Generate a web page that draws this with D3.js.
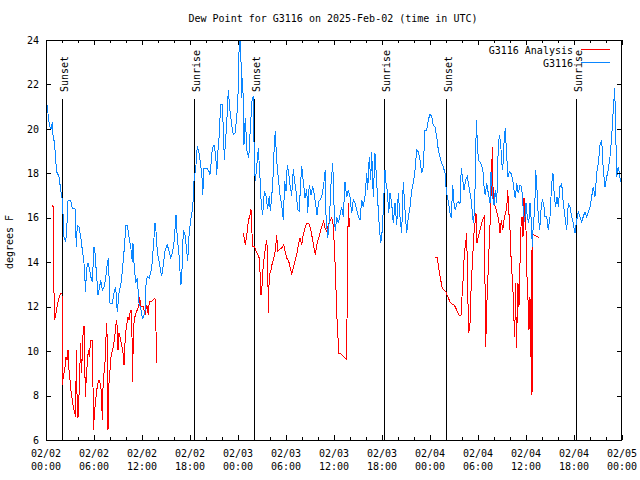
<!DOCTYPE html>
<html><head><meta charset="utf-8">
<script src="https://cdn.jsdelivr.net/npm/d3@7"></script>
<style>
body{margin:0;background:#fff;}
text{font-family:"DejaVu Sans Mono",monospace;font-size:10px;fill:#000;}
</style></head>
<body><svg id="c" width="640" height="480"></svg>
<script>
// ---- data (hours since 2025-02-02 00:00 UTC, dew point in deg F) ----
const title = "Dew Point for G3116 on 2025-Feb-02 (time in UTC)";
const seriesNames = ["G3116 Analysis", "G3116"];
const yTicks = [6, 8, 10, 12, 14, 16, 18, 20, 22, 24];
const sunEvents = [["Sunset", 2.04], ["Sunrise", 18.46], ["Sunset", 26.04], ["Sunrise", 42.3], ["Sunset", 50.04], ["Sunrise", 66.2]];

const obsHours = [0.125,0.375,0.59,0.79,0.91,1.04,1.21,1.34,1.625,1.84,2.04,2.125,2.25,2.46,2.59,2.75,3.09,3.29,3.625,3.79,3.91,4.125,4.34,4.54,4.75,4.96,5.04,5.25,5.46,5.59,5.79,6.0,6.125,6.29,6.5,6.71,6.84,7.04,7.25,7.46,7.66,7.79,7.875,8.0,8.29,8.5,8.71,8.91,9.125,9.41,9.625,9.84,9.96,10.16,10.375,10.59,10.79,10.875,11.0,11.21,11.41,11.625,11.84,12.04,12.16,12.375,12.5,12.66,12.91,13.21,13.41,13.625,13.75,13.91,14.125,14.34,14.46,14.66,14.875,15.16,15.375,15.59,15.84,16.04,16.25,16.41,16.625,16.75,16.875,17.04,17.16,17.375,17.59,17.71,17.91,18.125,18.34,18.5,18.75,18.91,19.09,19.34,19.5,19.59,19.75,20.09,20.375,20.5,20.625,20.79,21.0,21.21,21.34,21.46,21.625,21.84,22.04,22.16,22.29,22.5,22.66,22.79,23.0,23.21,23.41,23.625,23.84,24.0,24.16,24.31,24.46,24.59,24.75,24.91,25.125,25.34,25.54,25.75,25.91,26.04,26.16,26.34,26.54,26.75,26.91,27.09,27.29,27.5,27.71,27.91,28.04,28.34,28.54,28.66,28.84,29.04,29.25,29.5,29.66,29.84,30.0,30.16,30.34,30.5,30.71,30.91,31.09,31.25,31.46,31.66,31.79,31.96,32.16,32.375,32.59,32.71,32.91,33.125,33.34,33.46,33.66,33.875,34.09,34.29,34.5,34.71,34.91,35.0,35.21,35.41,35.625,35.84,36.04,36.16,36.34,36.54,36.75,36.96,37.16,37.375,37.59,37.79,38.0,38.21,38.41,38.625,38.84,39.04,39.25,39.46,39.66,39.875,40.09,40.21,40.41,40.59,40.71,40.91,41.125,41.25,41.46,41.66,41.84,42.04,42.16,42.375,42.5,42.66,42.84,43.0,43.21,43.41,43.625,43.84,44.04,44.25,44.46,44.66,44.875,45.09,45.29,45.5,45.71,45.91,46.125,46.34,46.54,46.75,46.96,47.16,47.375,47.59,47.79,48.0,48.21,48.41,48.625,48.84,49.04,49.25,49.46,49.66,49.875,50.0,50.16,50.34,50.5,50.66,50.84,51.0,51.16,51.34,51.54,51.75,51.91,52.09,52.25,52.46,52.66,52.875,53.09,53.29,53.41,53.54,53.66,53.79,53.91,54.04,54.25,54.46,54.66,54.79,54.91,55.09,55.29,55.5,55.625,55.84,56.0,56.16,56.34,56.5,56.66,56.84,56.96,57.09,57.25,57.41,57.59,57.75,57.91,58.125,58.34,58.5,58.66,58.84,59.04,59.25,59.46,59.66,59.84,60.0,60.16,60.34,60.5,60.66,60.79,60.91,61.09,61.21,61.375,61.54,61.71,61.875,62.04,62.21,62.375,62.59,62.79,63.0,63.21,63.375,63.54,63.71,63.875,64.04,64.25,64.46,64.66,64.875,65.09,65.29,65.5,65.71,65.91,66.125,66.34,66.54,66.75,66.96,67.16,67.375,67.59,67.79,68.0,68.21,68.41,68.625,68.84,69.04,69.25,69.46,69.66,69.875,70.09,70.29,70.5,70.71,70.91,71.09,71.21,71.34,71.54,71.66,71.84];
const obsValues = [21.1,20.3,19.95,20.3,19.5,19.5,18.6,18.07,17.85,17.25,16.8,16.17,15.15,14.9,15.45,16.77,16.77,16.42,16.4,14.7,15.67,15.6,15.15,14.55,13.95,12.67,13.65,13.98,13.65,13.35,13.13,14.7,14.4,13.57,12.52,12.9,13.2,12.75,12.9,13.28,13.95,14.17,13.4,12.15,12.15,12.6,12.9,11.77,12.6,13.13,13.95,14.85,15.67,15.67,15.15,14.7,14.0,14.85,13.95,13.05,13.28,12.15,11.95,11.47,11.5,11.79,12.99,13.37,13.3,13.74,14.64,15.76,15.39,14.49,14.04,13.59,13.37,13.89,14.49,14.79,14.49,14.19,14.49,15.01,16.14,15.09,14.34,13.59,12.99,13.9,15.46,15.24,14.49,14.04,15.39,15.99,16.44,17.64,18.39,19.22,18.99,18.39,17.79,17.04,18.24,18.24,18.09,17.94,18.39,19.14,19.29,18.84,17.94,18.84,19.59,21.09,21.09,20.04,18.61,19.74,20.72,21.76,20.79,20.2,19.74,19.8,20.49,21.54,23.94,24.3,21.39,22.29,19.29,20.49,18.99,18.69,20.04,21.24,21.47,18.54,17.64,18.3,19.14,17.79,16.59,16.14,17.19,17.0,16.4,17.0,16.29,17.49,19.29,19.89,18.54,17.79,17.04,16.44,15.91,17.64,17.2,18.39,18.0,17.49,17.0,18.17,17.64,17.19,16.37,16.3,17.3,18.32,17.64,16.89,17.3,16.22,17.49,17.04,17.42,17.2,16.74,16.14,16.74,16.8,17.04,17.49,18.17,16.14,15.09,15.84,17.49,18.47,16.14,15.39,16.05,15.75,16.12,16.5,16.05,17.62,16.95,17.25,16.95,16.2,16.8,16.65,16.35,16.05,15.9,16.8,16.5,16.95,18.0,17.25,18.75,17.7,18.97,16.95,18.9,18.15,16.8,15.6,14.85,15.45,16.35,18.15,17.55,17.25,16.2,17.1,16.65,15.75,16.65,15.68,17.1,16.05,15.3,17.62,16.35,15.3,16.05,16.5,17.25,17.55,18.15,19.05,18.97,18.6,18.0,18.3,19.95,19.95,20.4,20.67,20.55,20.17,20.1,19.65,19.05,18.75,18.45,18.3,18.0,17.4,16.95,16.65,16.2,15.98,17.47,16.65,16.35,16.65,16.72,16.65,18.22,17.7,17.25,17.7,17.85,17.4,16.95,16.27,15.75,16.2,17.7,20.4,19.5,18.6,18.52,18.37,18.0,17.18,17.02,17.55,17.1,16.65,18.07,16.95,16.58,17.25,16.65,18.75,19.73,19.35,18.45,18.15,19.35,20.03,18.75,17.85,18.07,18.0,17.7,17.25,16.88,17.55,17.1,17.47,17.4,16.35,15.83,16.65,16.05,15.75,16.65,15.9,14.7,15.75,16.35,18.15,17.25,16.05,15.45,16.35,16.8,16.65,16.05,16.05,15.45,16.05,17.55,18.0,16.95,16.5,16.95,16.5,17.4,17.55,16.65,16.05,15.45,16.65,16.5,16.05,15.75,15.3,15.9,16.27,16.05,15.83,16.05,16.27,16.05,16.27,16.5,16.95,17.4,16.95,18.0,18.45,19.27,19.5,18.15,17.4,17.85,18.15,18.75,19.65,20.85,21.82,19.95,17.85,18.3,18.0,17.62];

// analysis: three separate runs
const anaHours1 = [0.75,0.875,0.96,1.04,1.21,1.34,1.46,1.625,1.84,2.0,2.03,2.06,2.16,2.34,2.5,2.625,2.75,2.84,3.0,3.16,3.29,3.41,3.59,3.71,3.79,3.91,4.0,4.09,4.25,4.34,4.41,4.54,4.66,4.79,4.91,5.04,5.16,5.29,5.41,5.59,5.84,5.91,6.0,6.09,6.21,6.34,6.5,6.625,6.75,6.91,7.04,7.16,7.34,7.46,7.59,7.66,7.75,7.875,8.0,8.125,8.29,8.41,8.59,8.71,8.84,8.91,9.0,9.125,9.25,9.41,9.59,9.75,9.875,10.0,10.125,10.25,10.375,10.5,10.625,10.75,10.84,10.91,11.04,11.21,11.41,11.59,11.71,11.84,11.96,12.16,12.375,12.59,12.79,12.91,13.21,13.41,13.625,13.75,13.84];
const anaValues1 = [16.5,16.57,13.95,11.4,11.6,11.9,12.15,12.4,12.6,12.6,10.5,8.47,8.85,9.15,9.75,9.6,10.05,9.3,8.7,8.1,7.8,7.5,7.2,7.05,10.05,7.35,7.0,7.6,9.45,10.35,9.0,9.75,11.1,11.1,7.95,8.85,9.45,10.05,9.75,10.5,10.5,6.45,6.9,7.35,7.8,8.25,8.55,8.7,8.55,8.25,6.9,8.85,9.15,10.35,11.25,10.35,6.45,8.55,9.15,9.75,10.05,10.2,10.65,11.1,11.4,10.95,10.05,10.8,10.65,10.35,10.05,9.37,10.35,10.95,11.25,11.55,11.4,11.7,11.85,10.65,8.62,10.95,11.4,11.7,11.85,12.0,12.45,12.0,12.01,12.01,11.64,12.09,11.64,12.24,12.24,12.3,12.39,10.89,9.47];
const anaHours2 = [24.66,24.91,25.09,25.29,25.5,25.625,25.75,25.84,26.04,26.25,26.46,26.66,26.79,26.875,27.0,27.16,27.375,27.59,27.71,27.79,27.91,28.09,28.25,28.46,28.66,28.84,28.96,29.16,29.46,29.71,29.875,30.09,30.34,30.54,30.71,30.91,31.125,31.34,31.54,31.75,31.96,32.16,32.375,32.59,32.84,33.04,33.25,33.46,33.66,33.84,34.09,34.29,34.5,34.71,34.875,35.09,35.29,35.5,35.71,35.91,36.09,36.21,36.25,36.41,36.625,36.84,37.59,37.66,37.79,37.875,38.0];
const anaValues2 = [15.32,14.79,15.2,15.84,16.14,16.37,15.3,14.72,14.72,14.49,14.34,14.19,13.29,12.54,12.9,13.89,14.49,15.01,14.2,11.71,13.44,13.59,13.89,14.19,14.49,15.24,14.49,14.57,14.64,14.79,14.49,14.19,14.04,13.74,13.44,13.74,14.04,14.34,14.79,15.09,14.79,15.24,15.54,15.76,15.76,15.54,15.16,14.72,14.34,14.79,15.09,15.39,15.61,15.84,15.54,15.39,15.69,15.84,15.99,15.69,14.34,13.29,12.75,11.1,9.9,9.87,9.6,13.05,16.65,15.6,16.0];
const anaHours3 = [48.66,48.91,49.125,49.34,49.54,49.75,50.0,50.21,50.5,50.71,51.04,51.34,51.625,51.875,52.0,52.16,52.29,52.46,52.59,52.71,52.84,53.0,53.16,53.34,53.5,53.625,53.75,53.875,54.04,54.25,54.46,54.66,54.79,54.91,54.96,55.09,55.21,55.34,55.46,55.59,55.71,55.79,55.875,56.0,56.16,56.34,56.59,56.75,56.91,57.09,57.25,57.41,57.59,57.71,57.84,58.0,58.16,58.34,58.46,58.59,58.71,58.79,58.91,59.0,59.125,59.25,59.375,59.5,59.625,59.75,59.875,60.0,60.125,60.25,60.375,60.5,60.59,60.66,60.75,60.84,61.0,61.34,61.59];
const anaValues3 = [14.22,14.22,13.65,13.2,12.82,12.75,12.67,12.45,12.22,12.12,12.07,11.85,11.62,11.62,12.45,13.35,14.4,14.85,15.3,12.75,10.8,11.25,13.05,14.25,15.3,15.75,16.2,14.85,15.15,15.45,15.75,15.98,16.05,11.85,10.2,12.0,13.05,14.25,15.3,16.5,18.0,19.2,17.4,16.65,16.5,16.27,15.9,15.3,15.9,15.45,15.9,16.2,16.42,17.25,16.35,15.45,13.95,13.05,11.7,10.65,13.05,10.12,11.7,13.05,12.0,13.95,15.6,16.05,15.15,16.88,16.05,15.45,13.35,12.3,10.95,12.45,9.75,14.55,8.03,15.3,15.22,15.16,15.12];

// ---- drawing ----
const W = 640, H = 480;
const L = 46, R = 622, T = 40, B = 440;
const t0 = Date.UTC(2025, 1, 2);
const toDate = h => new Date(t0 + h * 3600e3);
const x = d3.scaleUtc().domain([toDate(0), toDate(72)]).range([L, R]);
const y = d3.scaleLinear().domain([6, 24]).range([B, T]);
const svg = d3.select("#c");
svg.append("rect").attr("width", W).attr("height", H).attr("fill", "#fff");

svg.append("defs").append("clipPath").attr("id", "clip")
  .append("rect").attr("x", L).attr("y", T).attr("width", R - L).attr("height", B - T);

const zip = (hs, vs) => hs.map((h, i) => ({ t: toDate(h), v: vs[i] }));
const line = d3.line().x(d => x(d.t)).y(d => y(d.v));
const RED = "#ff0000", BLUE = "#0a86ff";

// sunrise/sunset markers
sunEvents.forEach(([lab, h]) => {
  const xp = Math.round(x(toDate(h))) + 0.5;
  svg.append("line").attr("x1", xp).attr("x2", xp).attr("y1", 99).attr("y2", B)
    .attr("stroke", "#000").attr("stroke-width", 1).attr("shape-rendering", "crispEdges");
  svg.append("text").attr("transform", `translate(${xp + 5},92) rotate(-90)`)
    .attr("text-anchor", "start").text(lab);
});

const plot = svg.append("g").attr("clip-path", "url(#clip)");
[[anaHours1, anaValues1], [anaHours2, anaValues2], [anaHours3, anaValues3]].forEach(([hs, vs]) => {
  plot.append("path").datum(zip(hs, vs)).attr("d", line)
    .attr("fill", "none").attr("stroke", RED).attr("stroke-width", 1).attr("shape-rendering", "crispEdges");
});
plot.append("path").datum(zip(obsHours, obsValues)).attr("d", line)
  .attr("fill", "none").attr("stroke", BLUE).attr("stroke-width", 1).attr("shape-rendering", "crispEdges");

// axes
const majorX = d3.range(0, 73, 6).map(toDate);
const minorX = d3.range(0, 73, 2).filter(h => h % 6 !== 0).map(toDate);
function xTicks(gen, vals, size, ty) {
  const g = svg.append("g").attr("transform", `translate(0,${ty})`)
    .call(gen(x).tickValues(vals).tickSize(size).tickFormat(""));
  g.select(".domain").remove();
  g.selectAll("line").attr("stroke", "#000").attr("shape-rendering", "crispEdges");
  return g;
}
xTicks(d3.axisBottom, majorX, -5, B);
xTicks(d3.axisBottom, minorX, -3, B);
xTicks(d3.axisTop, majorX, -5, T);
xTicks(d3.axisTop, minorX, -3, T);

const fmtD = d3.utcFormat("%m/%d"), fmtT = d3.utcFormat("%H:%M");
majorX.forEach(d => {
  const t = svg.append("text").attr("x", x(d)).attr("text-anchor", "middle");
  t.append("tspan").attr("x", x(d)).attr("y", 457).text(fmtD(d));
  t.append("tspan").attr("x", x(d)).attr("y", 470).text(fmtT(d));
});

const gy = svg.append("g").attr("transform", `translate(${L},0)`)
  .call(d3.axisLeft(y).tickValues(yTicks).tickSize(-5).tickPadding(7).tickFormat(d3.format("d")));
gy.select(".domain").remove();
gy.selectAll("line").attr("stroke", "#000").attr("shape-rendering", "crispEdges");
gy.selectAll("text").attr("font-family", "DejaVu Sans Mono").attr("font-size", 10).attr("fill", "#000");
const gy2 = svg.append("g").attr("transform", `translate(${R},0)`)
  .call(d3.axisRight(y).tickValues(yTicks).tickSize(-5).tickFormat(""));
gy2.select(".domain").remove();
gy2.selectAll("line").attr("stroke", "#000").attr("shape-rendering", "crispEdges");

// frame
svg.append("rect").attr("x", L + 0.5).attr("y", T + 0.5).attr("width", R - L - 1).attr("height", B - T)
  .attr("fill", "none").attr("stroke", "#000").attr("shape-rendering", "crispEdges");

// titles
svg.append("text").attr("x", 333).attr("y", 22).attr("text-anchor", "middle").text(title);
svg.append("text").attr("transform", "translate(12.5,242) rotate(-90)").attr("text-anchor", "middle").text("degrees F");

// legend
const leg = [[seriesNames[0], RED, 54], [seriesNames[1], BLUE, 66.5]];
leg.forEach(([name, col, by]) => {
  svg.append("text").attr("x", 573).attr("y", by).attr("text-anchor", "end").text(name);
  svg.append("line").attr("x1", 581).attr("x2", 610).attr("y1", Math.round(by - 5) + 0.5).attr("y2", Math.round(by - 5) + 0.5)
    .attr("stroke", col).attr("stroke-width", 1).attr("shape-rendering", "crispEdges");
});
</script></body></html>
